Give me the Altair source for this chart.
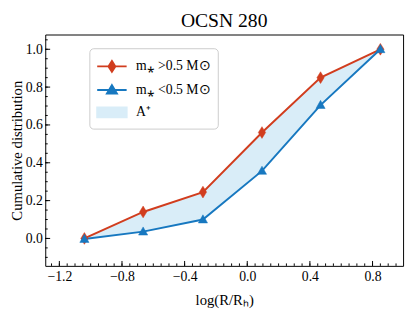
import altair as alt
import pandas as pd

# ---- data ----
x_vals = [-1.04, -0.665, -0.283, 0.094, 0.468, 0.85]
high_mass = [0.0, 0.14, 0.245, 0.56, 0.85, 1.0]      # m* > 0.5 Msun
low_mass = [-0.003, 0.036, 0.10, 0.357, 0.705, 1.0]  # m* < 0.5 Msun

label_hi = "m⁎ >0.5 M⊙"
label_lo = "m⁎ <0.5 M⊙"
label_area = "A⁺"

x_major = [-1.2, -0.8, -0.4, 0.0, 0.4, 0.8]
x_minor = [round(-1.25 + 0.05 * i, 2) for i in range(45)]
y_major = [0.0, 0.2, 0.4, 0.6, 0.8, 1.0]
y_minor = [round(-0.10 + 0.05 * i, 2) for i in range(24)]

RED = "#d13d1e"
BLUE = "#1778c0"
FILL = "#d9edf8"
FONT = "Liberation Serif"
W, H = 365, 236

xscale = alt.Scale(domain=[-1.29, 0.995], nice=False, zero=False)
yscale = alt.Scale(domain=[-0.145, 1.078], nice=False, zero=False)

xaxis = alt.Axis(title="log(R/Rₕ)", values=x_major, format=".1f",
                 ticks=False, tickSize=0, domain=False, grid=False,
                 labelPadding=4, titlePadding=9)
yaxis = alt.Axis(title="Cumulative distribution", values=y_major, format=".1f",
                 ticks=False, tickSize=0, domain=False, grid=False,
                 labelPadding=3, titlePadding=1)

df = pd.DataFrame({"x": x_vals, "hi": high_mass, "lo": low_mass})
df_hi = pd.DataFrame({"x": x_vals, "y": high_mass})
df_lo = pd.DataFrame({"x": x_vals, "y": low_mass})

area = alt.Chart(df).mark_area(color=FILL, opacity=1).encode(
    x=alt.X("x:Q", scale=xscale, axis=xaxis),
    y=alt.Y("hi:Q", scale=yscale, axis=yaxis),
    y2="lo:Q",
)

def series(d, color, shape):
    line = alt.Chart(d).mark_line(color=color, strokeWidth=2).encode(
        x=alt.X("x:Q", scale=xscale, axis=xaxis),
        y=alt.Y("y:Q", scale=yscale, axis=yaxis),
    )
    pts = alt.Chart(d).mark_point(filled=True, opacity=1, color=color, shape=shape,
                                  size=144, stroke=color, strokeWidth=0.5).encode(
        x=alt.X("x:Q", scale=xscale, axis=xaxis),
        y=alt.Y("y:Q", scale=yscale, axis=yaxis),
    )
    return line, pts

DIAMOND = "M0,-1L0.62,0L0,1L-0.62,0Z"
TRIANGLE = "M0,-0.8L0.78,0.58L-0.78,0.58Z"
hi_line, hi_pts = series(df_hi, RED, DIAMOND)
lo_line, lo_pts = series(df_lo, BLUE, TRIANGLE)

# ---- legend (entries from the scale domain, no drawn marks) ----
leg_names = [label_hi, label_lo, label_area]
leg_colors = [RED, BLUE, FILL]
leg_shapes = [
    "M-1.43,0H1.43M0,-0.52L0.33,0L0,0.52L-0.33,0Z",
    "M-1.43,0H1.43M0,-0.45L0.48,0.35L-0.48,0.35Z",
    "M-1.43,-0.48H1.43V0.48H-1.43Z",
]
leg_df = pd.DataFrame({"s": leg_names})
legend_def = alt.Legend(
    title=None, orient="none", legendX=45, legendY=14,
    symbolSize=441, symbolStrokeWidth=2, symbolOffset=4.5, labelOffset=13,
    rowPadding=3, padding=7, fillColor="white", strokeColor="#cccccc",
    cornerRadius=4, labelFont=FONT, labelFontSize=14, labelColor="black",
    symbolOpacity=1,
)
legend_layer = alt.Chart(leg_df).transform_filter("false").mark_point(
    filled=True, opacity=1
).encode(
    fill=alt.Fill("s:N", scale=alt.Scale(domain=leg_names, range=leg_colors), legend=legend_def),
    stroke=alt.Stroke("s:N", scale=alt.Scale(domain=leg_names, range=leg_colors), legend=legend_def),
    shape=alt.Shape("s:N", scale=alt.Scale(domain=leg_names, range=leg_shapes), legend=legend_def),
)

# ---- inward ticks ----
def xticks(vals, length):
    return alt.Chart(pd.DataFrame({"x": vals})).mark_rule(color="black", strokeWidth=1).encode(
        x=alt.X("x:Q", scale=xscale, axis=xaxis),
        y=alt.value(H), y2=alt.value(H - length))

def yticks(vals, length):
    return alt.Chart(pd.DataFrame({"y": vals})).mark_rule(color="black", strokeWidth=1).encode(
        y=alt.Y("y:Q", scale=yscale, axis=yaxis),
        x=alt.value(0), x2=alt.value(length))

chart = alt.layer(
    area, xticks(x_minor, 2.5), xticks(x_major, 5), yticks(y_minor, 2.5), yticks(y_major, 5),
    hi_line, lo_line, hi_pts, lo_pts, legend_layer,
).resolve_scale(
    fill="independent", stroke="independent", shape="independent"
).properties(
    width=W, height=H,
    title=alt.TitleParams("OCSN 280", font=FONT, fontSize=20, fontWeight="normal",
                          color="black", offset=4, frame="group"),
    autosize=alt.AutoSizeParams(type="none"),
    padding={"left": 38, "top": 24, "right": 4, "bottom": 44},
).configure_view(
    stroke="black", strokeWidth=1
).configure_axis(
    labelFont=FONT, titleFont=FONT, labelFontSize=14, titleFontSize=15,
    labelColor="black", titleColor="black", titleFontWeight="normal",
)

chart.save("out.html", embed_options={"renderer": "svg", "actions": False})
